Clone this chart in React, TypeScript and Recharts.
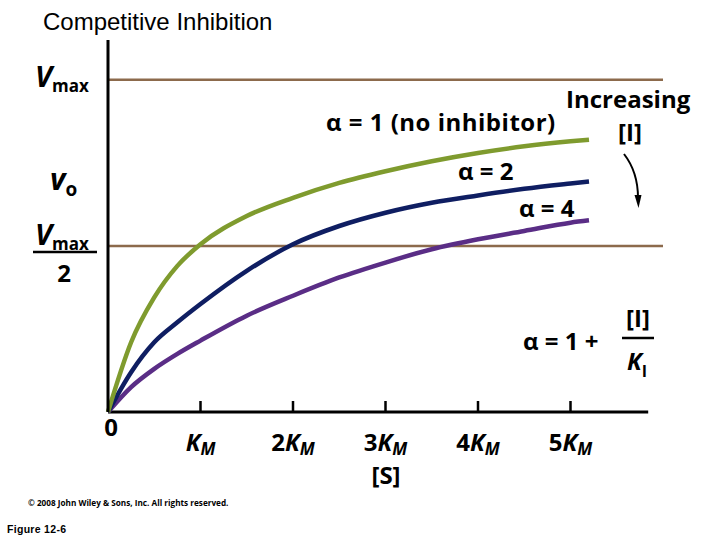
import React from 'react';
import { LineChart, Line, XAxis, YAxis, ReferenceLine } from 'recharts';

// [S] in multiples of KM, v0 as a fraction of Vmax
const substrate = [0, 0.25, 0.5, 0.75, 1, 1.5, 2, 2.5, 3, 3.5, 4, 4.5, 5, 5.2];
const noInhibitor = [0, 0.21, 0.345, 0.44, 0.505, 0.59, 0.645, 0.69, 0.725, 0.755, 0.78, 0.8, 0.815, 0.82];
const alphaTwo = [0, 0.12, 0.21, 0.27, 0.325, 0.425, 0.505, 0.56, 0.6, 0.63, 0.652, 0.672, 0.688, 0.694];
const alphaFour = [0, 0.075, 0.13, 0.175, 0.215, 0.29, 0.35, 0.405, 0.45, 0.49, 0.52, 0.545, 0.57, 0.577];

const kmTicks = [0, 1, 2, 3, 4, 5];
const vTicks = [1, 0.685, 0.5]; // Vmax, vo, Vmax/2
const X_MAX = 6;
const X_AXIS_END = 5.84;
const Y_MAX = 1.12;

const rows = substrate.map((s, i) => ({
  s,
  none: noInhibitor[i],
  two: alphaTwo[i],
  four: alphaFour[i],
}));

const FONT = '"Open Sans", "DejaVu Sans", sans-serif';
const GREEN = '#7f9b2e';
const NAVY = '#0f1e62';
const PURPLE = '#5a2d86';
const BROWN = '#8c6a4c';

const KmTick = (props: any) => {
  const { x, y, payload } = props;
  const n = payload.value;
  if (n === 0) {
    return (
      <text x={x + 3} y={y + 24} textAnchor="middle" fontFamily={FONT} fontWeight={700} fontSize={24} fill="#000">
        0
      </text>
    );
  }
  return (
    <g>
      <line x1={x} x2={x} y1={y} y2={y - 11} stroke="#000" strokeWidth={2.5} />
      <text x={x} y={y + 39} textAnchor="middle" fontFamily={FONT} fontWeight={700} fontSize={24} fill="#000">
        {n > 1 ? <tspan>{n}</tspan> : null}
        <tspan fontStyle="italic">K</tspan>
        <tspan fontStyle="italic" fontSize={17} dy={4}>M</tspan>
      </text>
    </g>
  );
};

const VTick = (props: any) => {
  const { x, y, payload } = props;
  const v = payload.value;
  const common = { fontFamily: FONT, fontWeight: 700, fill: '#000' };
  if (v === 1) {
    return (
      <text x={x - 73} y={y + 7} {...common} fontSize={29}>
        <tspan fontStyle="italic">V</tspan>
        <tspan fontSize={17} dy={5}>max</tspan>
      </text>
    );
  }
  if (v === 0.5) {
    return (
      <g>
        <text x={x - 73} y={y - 1} {...common} fontSize={29}>
          <tspan fontStyle="italic">V</tspan>
          <tspan fontSize={17} dy={5}>max</tspan>
        </text>
        <line x1={x - 75} x2={x - 11} y1={y + 6} y2={y + 6} stroke="#000" strokeWidth={2.5} />
        <text x={x - 44} y={y + 36} textAnchor="middle" {...common} fontSize={24}>2</text>
      </g>
    );
  }
  return (
    <text x={x - 58} y={y + 6} {...common} fontSize={30}>
      <tspan fontStyle="italic">v</tspan>
      <tspan fontSize={19} dy={6}>o</tspan>
    </text>
  );
};

export default function App() {
  const bold = { fontFamily: FONT, fontWeight: 700, fill: '#000' } as const;
  return (
    <div style={{ position: 'absolute', left: 0, top: 0, width: 720, height: 540, background: '#fff' }}>
      <LineChart width={720} height={540} data={rows} margin={{ top: 40, right: 57, bottom: 127, left: 107 }}>
        <XAxis
          dataKey="s"
          type="number"
          domain={[0, X_MAX]}
          ticks={kmTicks}
          interval={0}
          height={1}
          tickSize={0}
          tickMargin={0}
          axisLine={false}
          tickLine={false}
          tick={<KmTick />}
        />
        <YAxis
          type="number"
          domain={[0, Y_MAX]}
          ticks={vTicks}
          interval={0}
          width={1}
          tickSize={0}
          tickMargin={0}
          tickLine={false}
          axisLine={{ stroke: '#000', strokeWidth: 3 }}
          tick={<VTick />}
        />
        <ReferenceLine y={1} stroke={BROWN} strokeWidth={2.5} />
        <ReferenceLine y={0.5} stroke={BROWN} strokeWidth={2.5} />
        <ReferenceLine
          segment={[{ x: 0, y: 0 }, { x: X_AXIS_END, y: 0 }]}
          stroke="#000"
          strokeWidth={3}
        />
        <Line type="monotone" dataKey="four" stroke={PURPLE} strokeWidth={4.5} dot={false} isAnimationActive={false} />
        <Line type="monotone" dataKey="two" stroke={NAVY} strokeWidth={4.5} dot={false} isAnimationActive={false} />
        <Line type="monotone" dataKey="none" stroke={GREEN} strokeWidth={4.5} dot={false} isAnimationActive={false} />
      </LineChart>

      <svg width={720} height={540} style={{ position: 'absolute', left: 0, top: 0, pointerEvents: 'none' }}>
        <text x={43} y={30} fontFamily='"Liberation Sans", Arial, sans-serif' fontSize={24} fill="#000">
          Competitive Inhibition
        </text>

        <text x={326} y={131} {...bold} fontSize={24} letterSpacing={0.5}>α = 1 (no inhibitor)</text>
        <text x={458} y={180} {...bold} fontSize={24}>α = 2</text>
        <text x={519} y={217} {...bold} fontSize={24}>α = 4</text>

        <text x={566} y={108} {...bold} fontSize={24}>Increasing</text>
        <text x={630} y={141} textAnchor="middle" {...bold} fontSize={24}>[I]</text>
        <path d="M 624 154 Q 638 172 638 198" fill="none" stroke="#000" strokeWidth={2} />
        <polygon points="634.5,195 641.5,195 638.5,208" fill="#000" />

        <text x={523} y={350} {...bold} fontSize={24}>α = 1 +</text>
        <text x={638} y={327} textAnchor="middle" {...bold} fontSize={24}>[I]</text>
        <line x1={622} x2={654} y1={338} y2={338} stroke="#000" strokeWidth={2.5} />
        <text x={627} y={370} {...bold} fontSize={24}>
          <tspan fontStyle="italic">K</tspan>
          <tspan fontSize={16} dy={7}>I</tspan>
        </text>

        <text x={386} y={484} textAnchor="middle" {...bold} fontSize={24}>[S]</text>

        <text x={28} y={506} {...bold} fontSize={8.2}>© 2008 John Wiley &amp; Sons, Inc. All rights reserved.</text>
        <text x={7} y={533} fontFamily='"Liberation Sans", Arial, sans-serif' fontWeight={700} fontSize={10.5} letterSpacing={0.3} fill="#000">
          Figure 12-6
        </text>
      </svg>
    </div>
  );
}
